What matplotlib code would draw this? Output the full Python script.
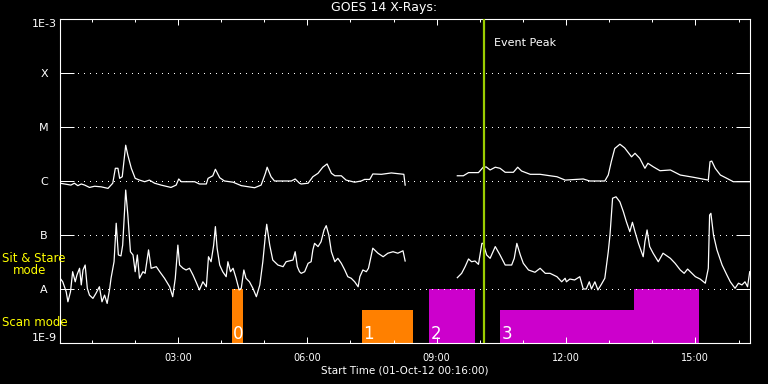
import matplotlib
matplotlib.use('Agg')
import numpy as np
import matplotlib.pyplot as plt
from matplotlib.ticker import NullLocator

nan = np.nan

# time axis: hours after 00:00 on 01-Oct-12, plot starts at 00:16
t_start = 16 / 60.0
t_span = 16.0

# GOES 14 long channel (1-8 A), W/m^2
long_t = [0.27, 0.52, 0.60, 0.68, 0.76, 0.84, 0.95, 1.07, 1.22, 1.38,
          1.49, 1.55, 1.61, 1.65, 1.71, 1.79, 1.84, 1.92, 2.01, 2.11,
          2.23, 2.34, 2.46, 2.61, 2.84, 2.96, 3.02, 3.08, 3.39, 3.50,
          3.66, 3.70, 3.81, 3.87, 3.97, 4.08, 4.28, 4.47, 4.78, 4.93,
          5.03, 5.07, 5.16, 5.24, 5.63, 5.72, 5.82, 5.86, 6.02, 6.13,
          6.25, 6.36, 6.46, 6.56, 6.64, 6.79, 6.90, 7.10, 7.25, 7.33,
          7.45, 7.52, 7.72, 7.95, 8.24, 8.27, 8.80, 9.48, 9.62, 9.74,
          9.97, 10.08, 10.15, 10.24, 10.36, 10.47, 10.59, 10.78, 10.88, 10.97,
          11.17, 11.40, 11.63, 11.79, 11.98, 12.40, 12.55, 12.90, 12.98, 13.05,
          13.13, 13.25, 13.36, 13.52, 13.60, 13.71, 13.83, 13.90, 14.02, 14.18,
          14.42, 14.65, 14.96, 15.30, 15.34, 15.38, 15.46, 15.58, 15.73, 15.88,
          16.26]
long_f = [9.1e-7, 8.4e-7, 9.1e-7, 8.2e-7, 8.8e-7, 8.4e-7, 7.6e-7, 8.0e-7, 7.8e-7, 7.3e-7,
          9.1e-7, 1.72e-6, 1.72e-6, 1.12e-6, 1.20e-6, 4.6e-6, 3.0e-6, 1.72e-6, 1.12e-6, 1.04e-6,
          9.7e-7, 1.04e-6, 9.1e-7, 8.4e-7, 7.6e-7, 8.4e-7, 1.09e-6, 9.7e-7, 9.7e-7, 8.8e-7,
          8.8e-7, 1.12e-6, 1.25e-6, 1.65e-6, 1.15e-6, 1.0e-6, 9.5e-7, 8.2e-7, 7.5e-7, 8.4e-7,
          1.39e-6, 1.80e-6, 1.20e-6, 1.0e-6, 1.0e-6, 1.09e-6, 9.1e-7, 8.8e-7, 9.1e-7, 1.20e-6,
          1.39e-6, 1.80e-6, 2.07e-6, 1.39e-6, 1.25e-6, 1.25e-6, 1.04e-6, 9.5e-7, 1.0e-6, 1.07e-6,
          1.07e-6, 1.35e-6, 1.33e-6, 1.41e-6, 1.33e-6, 8.4e-7, nan, 1.25e-6, 1.25e-6, 1.43e-6,
          1.43e-6, 1.80e-6, 1.82e-6, 1.60e-6, 1.80e-6, 1.72e-6, 1.45e-6, 1.45e-6, 1.80e-6, 1.53e-6,
          1.33e-6, 1.33e-6, 1.25e-6, 1.20e-6, 1.04e-6, 1.09e-6, 1.0e-6, 1.0e-6, 1.29e-6, 2.28e-6,
          4.0e-6, 4.8e-6, 4.1e-6, 2.8e-6, 3.26e-6, 2.63e-6, 1.72e-6, 2.13e-6, 1.84e-6, 1.55e-6,
          1.60e-6, 1.29e-6, 1.17e-6, 1.04e-6, 2.28e-6, 2.34e-6, 1.72e-6, 1.29e-6, 1.12e-6, 9.7e-7,
          9.7e-7]

# GOES 14 short channel (0.5-4 A), W/m^2
short_t = [0.27, 0.33, 0.41, 0.45, 0.51, 0.56, 0.62, 0.66, 0.72, 0.76,
           0.80, 0.85, 0.90, 0.95, 1.03, 1.10, 1.18, 1.24, 1.30, 1.36,
           1.42, 1.45, 1.52, 1.57, 1.62, 1.68, 1.72, 1.79, 1.84, 1.90,
           1.96, 2.01, 2.06, 2.11, 2.19, 2.24, 2.32, 2.38, 2.50, 2.58,
           2.69, 2.81, 2.88, 2.94, 3.00, 3.04, 3.12, 3.19, 3.27, 3.35,
           3.42, 3.50, 3.58, 3.66, 3.71, 3.77, 3.83, 3.87, 3.91, 3.97,
           4.04, 4.12, 4.16, 4.22, 4.28, 4.35, 4.42, 4.47, 4.53, 4.58,
           4.66, 4.74, 4.82, 4.90, 4.97, 5.03, 5.06, 5.13, 5.20, 5.32,
           5.44, 5.51, 5.67, 5.72, 5.77, 5.82, 5.86, 5.94, 6.02, 6.09,
           6.13, 6.17, 6.25, 6.32, 6.39, 6.44, 6.50, 6.56, 6.64, 6.71,
           6.79, 6.87, 6.94, 7.02, 7.10, 7.18, 7.22, 7.29, 7.37, 7.42,
           7.47, 7.52, 7.64, 7.76, 7.87, 7.99, 8.10, 8.22, 8.27, 8.80,
           9.48, 9.58, 9.66, 9.74, 9.81, 9.89, 9.97, 10.05, 10.08, 10.16,
           10.24, 10.36, 10.47, 10.59, 10.74, 10.80, 10.86, 10.94, 11.01, 11.13,
           11.28, 11.40, 11.52, 11.63, 11.79, 11.90, 11.98, 12.01, 12.09, 12.20,
           12.32, 12.40, 12.47, 12.54, 12.59, 12.67, 12.74, 12.82, 12.90, 12.98,
           13.02, 13.08, 13.16, 13.25, 13.33, 13.40, 13.48, 13.54, 13.60, 13.68,
           13.79, 13.83, 13.88, 13.94, 14.02, 14.14, 14.25, 14.42, 14.53, 14.65,
           14.74, 14.82, 14.92, 15.00, 15.11, 15.23, 15.30, 15.33, 15.36, 15.42,
           15.50, 15.62, 15.73, 15.81, 15.92, 16.00, 16.08, 16.15, 16.21, 16.26]
short_f = [1.58e-8, 1.36e-8, 8.9e-9, 5.8e-9, 8.9e-9, 2.09e-8, 1.36e-8, 1.82e-8, 2.42e-8, 1.19e-8,
           2.25e-8, 2.78e-8, 1.03e-8, 7.7e-9, 6.7e-9, 8.3e-9, 1.10e-8, 5.8e-9, 7.7e-9, 5.4e-9,
           1.03e-8, 1.58e-8, 3.2e-8, 1.65e-7, 4.27e-8, 4.1e-8, 6.5e-8, 6.8e-7, 2.34e-7, 4.9e-8,
           4.27e-8, 2.09e-8, 4.27e-8, 1.58e-8, 2.09e-8, 1.95e-8, 5.3e-8, 2.42e-8, 2.59e-8, 2.09e-8,
           1.58e-8, 1.10e-8, 7.2e-9, 1.58e-8, 6.5e-8, 2.78e-8, 2.42e-8, 2.25e-8, 2.42e-8, 1.82e-8,
           1.36e-8, 9.6e-9, 1.36e-8, 1.10e-8, 3.96e-8, 3.2e-8, 6.5e-8, 1.43e-7, 5.7e-8, 2.78e-8,
           2.09e-8, 1.69e-8, 3.2e-8, 2.09e-8, 2.42e-8, 1.58e-8, 9.6e-9, 1.03e-8, 2.25e-8, 1.58e-8,
           1.36e-8, 1.03e-8, 7.2e-9, 1.19e-8, 3.2e-8, 1.0e-7, 1.58e-7, 6.5e-8, 3.44e-8, 2.78e-8,
           2.59e-8, 3.2e-8, 3.44e-8, 4.9e-8, 2.59e-8, 2.09e-8, 1.95e-8, 2.09e-8, 2.99e-8, 3.2e-8,
           5.3e-8, 7.0e-8, 6.1e-8, 7.5e-8, 1.24e-7, 1.49e-7, 1.0e-7, 4.9e-8, 3.2e-8, 3.7e-8,
           2.99e-8, 2.25e-8, 1.69e-8, 1.58e-8, 1.36e-8, 1.10e-8, 1.69e-8, 2.25e-8, 2.09e-8, 2.42e-8,
           3.7e-8, 5.7e-8, 4.6e-8, 3.96e-8, 4.6e-8, 4.9e-8, 4.6e-8, 5.1e-8, 3.3e-8, nan,
           1.62e-8, 1.95e-8, 2.59e-8, 3.6e-8, 3.2e-8, 3.3e-8, 2.86e-8, 7.0e-8, 7.0e-8, 4.27e-8,
           3.7e-8, 6.1e-8, 4.27e-8, 2.78e-8, 2.78e-8, 3.7e-8, 7.0e-8, 4.27e-8, 2.99e-8, 2.25e-8,
           2.04e-8, 2.42e-8, 1.95e-8, 1.95e-8, 1.69e-8, 1.36e-8, 1.58e-8, 1.36e-8, 1.53e-8, 1.47e-8,
           1.69e-8, 1.0e-8, 1.0e-8, 1.36e-8, 1.0e-8, 1.36e-8, 9.6e-9, 1.22e-8, 1.58e-8, 4.9e-8,
           1.0e-7, 4.8e-7, 5.1e-7, 4.1e-7, 2.7e-7, 1.76e-7, 1.15e-7, 1.72e-7, 1.15e-7, 7.0e-8,
           3.96e-8, 7.5e-8, 1.24e-7, 6.1e-8, 4.6e-8, 3.2e-8, 4.6e-8, 3.7e-8, 2.99e-8, 2.25e-8,
           1.95e-8, 2.34e-8, 1.95e-8, 1.69e-8, 1.53e-8, 1.28e-8, 2.42e-8, 2.34e-7, 2.52e-7, 1.0e-7,
           5.3e-8, 2.78e-8, 1.82e-8, 1.36e-8, 1.03e-8, 1.28e-8, 1.19e-8, 1.36e-8, 1.10e-8, 2.09e-8]

# observing blocks (hours), top level marks the mode
bar_start = [4.25, 7.27, 8.82, 10.47, 13.58]
bar_end = [4.50, 8.45, 9.89, 13.58, 15.08]
bar_top = [1e-8, 4.1e-9, 1e-8, 4.1e-9, 1e-8]
bar_color = ['#ff8000', '#ff8000', '#cc00cc', '#cc00cc', '#cc00cc']
bar_label = ['0', '1', '2', '3', '']

event_t = 10.09

ylevels = [1e-9, 1e-8, 1e-7, 1e-6, 1e-5, 1e-4, 1e-3]
ylabels = ['1E-9', 'A', 'B', 'C', 'M', 'X', '1E-3']
xmajor = [3, 6, 9, 12, 15]
xlabels = ['03:00', '06:00', '09:00', '12:00', '15:00']

fig = plt.figure(figsize=(7.68, 3.84), dpi=100, facecolor='black')
ax = fig.add_axes([60/768, 41/384, 690/768, 324/384])
ax.set_facecolor('black')
ax.set_yscale('log')
ax.set_xlim(t_start, t_start + t_span)
ax.set_ylim(ylevels[0], ylevels[-1])

for s, e, top, c, lab in zip(bar_start, bar_end, bar_top, bar_color, bar_label):
    ax.bar(s, top - ylevels[0], width=e - s, bottom=ylevels[0], align='edge',
           color=c, lw=0, zorder=1)
    if lab:
        ax.annotate(lab, xy=(s, ylevels[0]), xytext=(1, 2.7), textcoords='offset points',
                    color='white', fontsize=12, ha='left', va='baseline', zorder=4)

for lev in ylevels[1:-1]:
    ax.axhline(lev, color='white', lw=1.0, linestyle=(0, (0.72, 3.6)),
               antialiased=False, zorder=1.5)

ax.plot(long_t, long_f, color='white', lw=0.9, zorder=2)
ax.plot(short_t, short_f, color='white', lw=0.9, zorder=2)

ax.axvline(event_t, color='#9acd00', lw=1.6, zorder=3)
ax.text(event_t + 0.24, 3.6e-4, 'Event Peak', color='white', fontsize=8, va='center')

ax.set_xticks(xmajor)
ax.set_xticklabels(xlabels)
ax.set_xticks(np.arange(1, 17), minor=True)
ax.tick_params(axis='x', which='both', direction='in', top=True, bottom=True,
               colors='white', width=0.72, labelsize=7, pad=7)
ax.tick_params(axis='x', which='major', length=4.3)
ax.tick_params(axis='x', which='minor', length=2.2)

ax.set_yticks(ylevels)
ax.set_yticklabels(ylabels)
ax.yaxis.set_minor_locator(NullLocator())
ax.tick_params(axis='y', which='major', direction='in', left=True, right=True,
               length=10, width=0.72, colors='white', labelsize=8, pad=11.5)
for lab in ax.get_yticklabels():
    lab.set_ha('center')
ax.get_yticklabels()[0].set_va('bottom')
ax.get_yticklabels()[-1].set_va('top')

for sp in ax.spines.values():
    sp.set_color('white')
    sp.set_linewidth(0.8)

ax.set_xlabel('Start Time (01-Oct-12 00:16:00)', color='white', fontsize=7.5, labelpad=2)
fig.text(0.5, 1 - 8/384, 'GOES 14 X-Rays:', color='white', fontsize=9,
         ha='center', va='center')
fig.text(2/768, 1 - 258.7/384, 'Sit & Stare', color='#ffff00', fontsize=8.5,
         ha='left', va='center')
fig.text(13/768, 1 - 271/384, 'mode', color='#ffff00', fontsize=8.5,
         ha='left', va='center')
fig.text(2/768, 1 - 323/384, 'Scan mode', color='#ffff00', fontsize=8.5,
         ha='left', va='center')

fig.savefig('out.png', dpi=100, facecolor='black')
